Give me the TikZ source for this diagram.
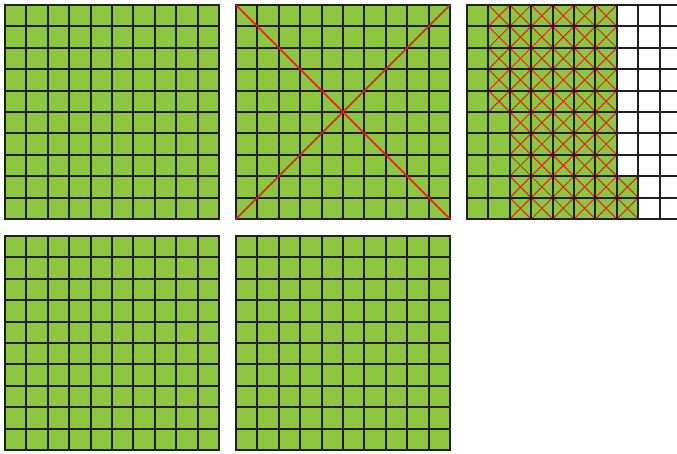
\documentclass[tikz,border=0pt]{standalone}
\definecolor{leaf}{RGB}{141,198,63}
\definecolor{ink}{RGB}{35,31,32}
\definecolor{crossred}{RGB}{230,30,40}

\begin{document}
\begin{tikzpicture}[x=1pt, y=-1pt,
		cellfill/.style={fill=leaf},
		gridline/.style={draw=ink, line width=2pt, line cap=rect},
		smallx/.style={draw=crossred, line width=1pt},
		bigx/.style={draw=crossred, line width=1.6pt}]
	
	\useasboundingbox (0,0) rectangle (677,453);
	\clip (0,0) rectangle (677,453);
	
	% four full hundred squares
	\foreach \gx/\gy in {5/5, 236/5, 5/236, 236/236}{
		\fill[cellfill] (\gx,\gy) rectangle ++(214,214);
		\foreach \i in {0,...,10}{
			\draw[gridline] (\gx+\i*21.4,\gy) -- ++(0,214);
			\draw[gridline] (\gx,\gy+\i*21.4) -- ++(214,0);
		}
	}
	
	% one hundred crossed out
	\draw[bigx] (236,5) -- (450,219);
	\draw[bigx] (450,5) -- (236,219);
	
	% third square: 72 green, 57 crossed
	\foreach \c/\r in {0/0,0/1,0/2,0/3,0/4,0/5,0/6,0/7,0/8,0/9,
		1/5,1/6,1/7,1/8,1/9}{
		\fill[cellfill] (467+\c*21.4,5+\r*21.4) rectangle ++(21.4,21.4);
	}
	\foreach \c/\r in {1/0,1/1,1/2,1/3,1/4,7/8,7/9}{
		\fill[cellfill] (467+\c*21.4,5+\r*21.4) rectangle ++(21.4,21.4);
		\draw[smallx] (467+\c*21.4,5+\r*21.4) -- ++(21.4,21.4);
		\draw[smallx] (467+\c*21.4+21.4,5+\r*21.4) -- ++(-21.4,21.4);
	}
	\foreach \c in {2,...,6}{
		\foreach \r in {0,...,9}{
			\fill[cellfill] (467+\c*21.4,5+\r*21.4) rectangle ++(21.4,21.4);
			\draw[smallx] (467+\c*21.4,5+\r*21.4) -- ++(21.4,21.4);
			\draw[smallx] (467+\c*21.4+21.4,5+\r*21.4) -- ++(-21.4,21.4);
		}
	}
	\foreach \i in {0,...,10}{
		\draw[gridline] (467+\i*21.4,5) -- ++(0,214);
		\draw[gridline] (467,5+\i*21.4) -- ++(214,0);
	}
\end{tikzpicture}
\end{document}
